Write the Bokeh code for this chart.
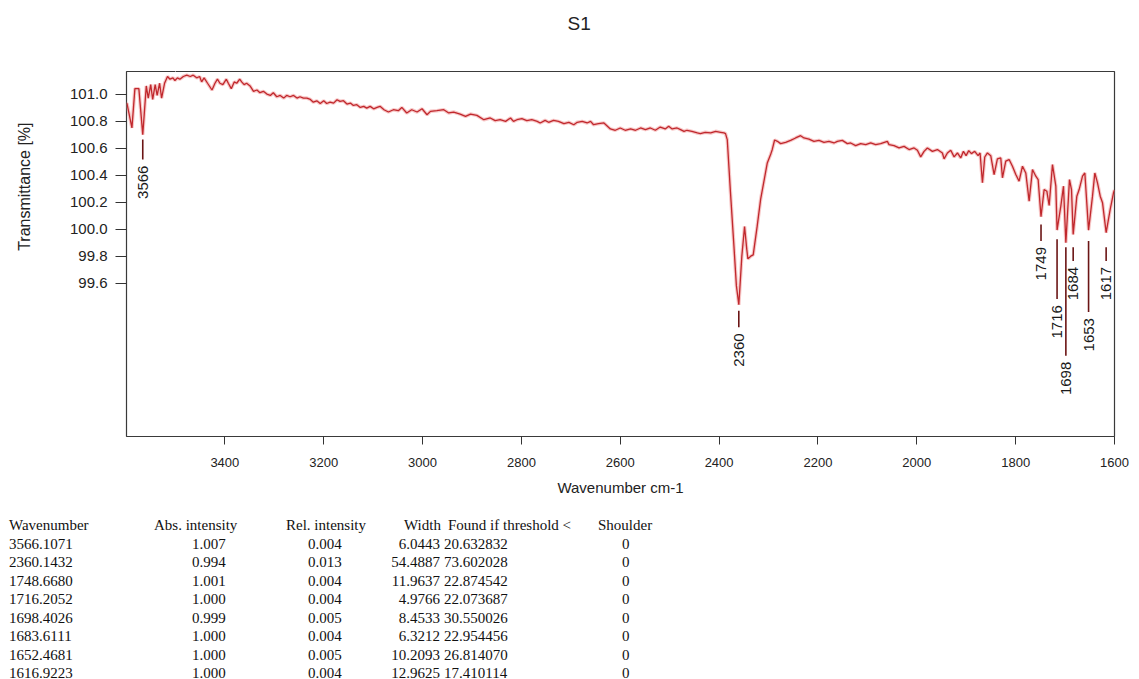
import math
from bokeh.plotting import figure
from bokeh.models import Range1d, FixedTicker, PrintfTickFormatter, Title, LinearAxis, Div
from bokeh.layouts import column
from bokeh.core.properties import value
from bokeh.embed import file_html
from bokeh.resources import INLINE

# ---------------- spectrum ----------------
wavenumber = [
    3599, 3598, 3588, 3582, 3574, 3566.1, 3559, 3555, 3550, 3546, 3541, 3537, 3532, 3528, 3522,
    3516, 3511, 3505, 3501, 3496, 3491, 3484, 3477, 3470, 3464, 3457, 3451, 3447, 3442, 3435,
    3426, 3420, 3415, 3410, 3404, 3397, 3393, 3387, 3381, 3376, 3370, 3366, 3361, 3356, 3349,
    3342, 3335, 3329, 3322, 3315, 3308, 3302, 3295, 3288, 3281, 3275, 3268, 3261, 3254, 3248,
    3241, 3234, 3227, 3221, 3214, 3207, 3200, 3194, 3187,
    3180, 3173, 3167, 3160, 3153, 3146, 3140, 3133, 3126, 3119, 3113, 3106, 3099, 3092, 3086,
    3078, 3069, 3059, 3049, 3042, 3032, 3022, 3011, 3001, 2991, 2984, 2971, 2957, 2947, 2937,
    2924, 2913, 2903, 2890, 2876, 2863, 2853, 2843, 2832, 2822, 2816, 2809, 2799, 2789, 2779, 2768,
    2762, 2752, 2745, 2735, 2725, 2714, 2704, 2694, 2687, 2677, 2667, 2660, 2654, 2644, 2633,
    2627, 2620, 2610, 2600, 2590, 2579, 2569, 2559, 2549, 2539, 2529, 2519, 2509, 2502, 2495,
    2485, 2478, 2471, 2465, 2455, 2444, 2438, 2428, 2417, 2407, 2397, 2390,
    2387, 2383.5, 2377, 2370, 2365, 2360.1, 2354, 2348.5, 2344, 2341.8, 2336, 2331, 2323, 2316,
    2302.5, 2296, 2292.4, 2287.7, 2282,
    2275.5, 2265.4, 2255.3, 2245.2, 2235.1, 2228.3, 2218.2, 2208.1, 2197.9, 2187.8, 2177.7,
    2167.5, 2160.8, 2150.7, 2140.5, 2133.8, 2123.7, 2113.6, 2103.4, 2093.3, 2083.2, 2073.1,
    2059.6, 2056.2, 2046.1, 2035.9, 2025.8, 2015.7, 2005.5, 1998.8, 1992.1, 1985.3, 1978.6,
    1968.4, 1958.3, 1948.2, 1944.8, 1938.1, 1931.3, 1924.5, 1917.8, 1911.1,
    1905.7, 1900.3, 1894.9, 1889.5, 1882.8, 1876, 1872, 1867.2, 1862.5, 1857.1, 1850.4, 1843.6,
    1836.9, 1830.1, 1826.7, 1820, 1813.2, 1806.5, 1799.7, 1793, 1786.2, 1779.5, 1772.7, 1766,
    1759.2, 1754.5, 1748.7, 1742.4, 1736.9, 1732.2, 1725.5, 1718.7, 1716.2, 1708.6, 1703.2,
    1698.4, 1691.1, 1687, 1683.6, 1676.2, 1671.5, 1664.7, 1660, 1652.5, 1644.5, 1639.8, 1634.4,
    1628.9, 1624.2, 1616.9, 1608.7, 1602, 1600,
]
transmittance = [
    100.93, 100.93, 100.75, 101.04, 101.04, 100.70, 101.06, 100.97, 101.07, 100.96, 101.07, 100.99, 101.08, 100.97, 101.08,
    101.13, 101.11, 101.12, 101.10, 101.12, 101.11, 101.13, 101.14, 101.13, 101.14, 101.12, 101.13, 101.09, 101.12, 101.08,
    101.03, 101.08, 101.11, 101.08, 101.07, 101.11, 101.08, 101.04, 101.09, 101.08, 101.11, 101.09, 101.07, 101.08, 101.06,
    101.02, 101.03, 101.01, 101.02, 101.00, 100.99, 101.01, 100.98, 100.99, 100.97, 100.99, 100.98, 100.99, 100.97, 100.98,
    100.97, 100.97, 100.96, 100.94, 100.95, 100.93, 100.95, 100.93, 100.94,
    100.933, 100.958, 100.946, 100.951, 100.926, 100.933, 100.916, 100.921, 100.901, 100.909, 100.896, 100.909, 100.891, 100.901, 100.909,
    100.884, 100.867, 100.884, 100.877, 100.901, 100.860, 100.884, 100.867, 100.891, 100.847, 100.872, 100.877, 100.884, 100.860, 100.867,
    100.852, 100.835, 100.852, 100.842, 100.810, 100.823, 100.803, 100.810, 100.798, 100.823, 100.798, 100.810, 100.818, 100.803, 100.810, 100.798,
    100.786, 100.805, 100.791, 100.805, 100.798, 100.781, 100.791, 100.773, 100.791, 100.798, 100.786, 100.798, 100.773, 100.781, 100.786,
    100.766, 100.742, 100.732, 100.749, 100.732, 100.742, 100.732, 100.749, 100.737, 100.749, 100.732, 100.756, 100.742, 100.761, 100.742,
    100.749, 100.737, 100.724, 100.732, 100.724, 100.712, 100.707, 100.717, 100.712, 100.724, 100.717, 100.712,
    100.707, 100.663, 100.272, 99.875, 99.58, 99.44, 99.80, 100.02, 99.85, 99.78, 99.80, 99.81, 100.02, 100.22,
    100.49, 100.55, 100.59, 100.66, 100.65,
    100.633, 100.643, 100.657, 100.675, 100.692, 100.675, 100.667, 100.650, 100.657, 100.643, 100.650,
    100.638, 100.650, 100.657, 100.633, 100.638, 100.618, 100.633, 100.626, 100.638, 100.626, 100.633,
    100.650, 100.626, 100.618, 100.601, 100.613, 100.589, 100.601, 100.584, 100.535, 100.576, 100.601,
    100.576, 100.589, 100.564, 100.520, 100.564, 100.584, 100.535, 100.564, 100.527,
    100.576, 100.544, 100.581, 100.559, 100.576, 100.544, 100.564, 100.343, 100.534, 100.564, 100.544, 100.404,
    100.520, 100.527, 100.380, 100.503, 100.515, 100.466, 100.404, 100.355, 100.466, 100.416, 100.207, 100.441,
    100.392, 100.367, 100.092, 100.293, 100.281, 100.175, 100.478, 100.318, 99.993, 100.170, 100.318,
    99.900, 100.367, 100.293, 99.961, 100.244, 100.293, 100.392, 100.416, 99.993, 100.244, 100.416, 100.343,
    100.244, 100.195, 99.974, 100.146, 100.269, 100.29,
]

# ---------------- peak picks ----------------
peak_wavenumber = [3566.1071, 2360.1432, 1748.6680, 1716.2052, 1698.4026, 1683.6111, 1652.4681, 1616.9223]
peak_labels = ["3566", "2360", "1749", "1716", "1698", "1684", "1653", "1617"]
peak_marker_top = [100.663, 99.396, 100.035, 99.925, 99.866, 99.866, 99.912, 99.866]
peak_marker_bottom = [100.515, 99.273, 99.912, 99.482, 99.063, 99.765, 99.386, 99.765]

# ---------------- axes ----------------
x_ticks = [3400, 3200, 3000, 2800, 2600, 2400, 2200, 2000, 1800, 1600]
y_ticks = [99.6, 99.8, 100.0, 100.2, 100.4, 100.6, 100.8, 101.0]

# ---------------- peak table ----------------
table_header = ["Wavenumber", "Abs. intensity", "Rel. intensity", "Width", "Found if threshold <", "Shoulder"]
table_wavenumber = ["3566.1071", "2360.1432", "1748.6680", "1716.2052", "1698.4026", "1683.6111", "1652.4681", "1616.9223"]
table_abs = ["1.007", "0.994", "1.001", "1.000", "0.999", "1.000", "1.000", "1.000"]
table_rel = ["0.004", "0.013", "0.004", "0.004", "0.005", "0.004", "0.005", "0.004"]
table_width = ["6.0443", "54.4887", "11.9637", "4.9766", "8.4533", "6.3212", "10.2093", "12.9625"]
table_found = ["20.632832", "73.602028", "22.874542", "22.073687", "30.550026", "22.954456", "26.814070", "17.410114"]
table_shoulder = ["0", "0", "0", "0", "0", "0", "0", "0"]

SANS = "Liberation Sans"
SERIF = "Liberation Serif"

FRAME_W, FRAME_H = 988, 365
B_LEFT, B_RIGHT, B_TOP, B_BOTTOM = 126, 16, 71, 63

p = figure(frame_width=FRAME_W, frame_height=FRAME_H,
           x_range=Range1d(3599, 1600), y_range=Range1d(98.465, 101.167),
           output_backend="svg", toolbar_location=None,
           min_border_left=B_LEFT, min_border_right=B_RIGHT,
           min_border_top=B_TOP, min_border_bottom=B_BOTTOM)
p.background_fill_color = "white"
p.border_fill_color = "white"
p.outline_line_color = "#3a3a3a"
p.outline_line_width = 1.2
p.xgrid.visible = False
p.ygrid.visible = False

# spectrum (soft halo + line)
p.line(wavenumber, transmittance, line_color="#f2a2a2", line_width=3.5, line_alpha=0.6)
p.line(wavenumber, transmittance, line_color="#c0282d", line_width=1.3)

# peak markers and labels
p.segment(x0=peak_wavenumber, y0=peak_marker_top, x1=peak_wavenumber, y1=peak_marker_bottom,
          line_color="#6b1515", line_width=1.6)
p.text(x=peak_wavenumber, y=peak_marker_bottom, text=peak_labels, angle=math.pi / 2,
       text_align="right", text_baseline="middle", y_offset=6,
       text_font=value(SANS), text_font_size="15px", text_color="#1a1a1a")

xa = p.xaxis[0]
xa.ticker = FixedTicker(ticks=x_ticks)
xa.axis_label = "Wavenumber cm-1"
xa.major_tick_in = 0
xa.major_tick_out = 8
xa.minor_tick_line_color = None
xa.major_label_standoff = 13
xa.major_label_text_font = SANS
xa.major_label_text_font_size = "13px"
xa.major_label_text_color = "#222222"
xa.axis_label_text_font = SANS
xa.axis_label_text_font_size = "15px"
xa.axis_label_text_font_style = "normal"
xa.axis_label_text_color = "#222222"
xa.axis_label_standoff = 9
xa.axis_line_color = None
xa.major_tick_line_color = "#333333"

ya = p.yaxis[0]
ya.ticker = FixedTicker(ticks=y_ticks)
ya.formatter = PrintfTickFormatter(format="%.1f")
ya.major_tick_in = 0
ya.major_tick_out = 11
ya.minor_tick_line_color = None
ya.major_label_standoff = 8
ya.major_label_text_font = SANS
ya.major_label_text_font_size = "15px"
ya.major_label_text_color = "#222222"
ya.axis_line_color = None
ya.major_tick_line_color = "#333333"


def spacer_axis(size, at):
    """An invisible axis (white tick on white, no labels) used only as padding in a side panel."""
    return LinearAxis(ticker=FixedTicker(ticks=[at]), axis_line_color=None,
                      major_tick_line_color="white", minor_tick_line_color=None,
                      major_tick_in=0, major_tick_out=size, minor_tick_out=0,
                      major_label_text_color=None, major_label_text_font_size="1px",
                      major_label_standoff=0)


# padding so the titles sit where the reference has them
p.add_layout(spacer_axis(33, 3500), "above")
p.add_layout(spacer_axis(29, 98.9), "left")

p.title.text = "S1"
p.title.align = "left"
p.title.offset = 441
p.title.text_font = SANS
p.title.text_font_size = "19px"
p.title.text_font_style = "normal"
p.title.text_color = "#222222"

p.add_layout(Title(text="Transmittance [%]", align="right", offset=51,
                   text_font=SANS, text_font_size="16px", text_font_style="normal",
                   text_color="#222222"), "left")

# ---------------- peak table below the chart (HTML text) ----------------
header_top = 14
row_step = 18.5
row_tops = [header_top + row_step * (i + 1) for i in range(len(table_wavenumber))]
header_left = [4, 149, 281, 399, 443, 593]


def span(text, left, top, align="left"):
    if align == "right":
        return ('<span style="position:absolute;left:%dpx;top:%.1fpx;width:90px;'
                'text-align:right;white-space:nowrap;line-height:15px;">%s</span>' % (left - 90, top, text))
    return ('<span style="position:absolute;left:%dpx;top:%.1fpx;white-space:nowrap;'
            'line-height:15px;">%s</span>' % (left, top, text.replace("<", "&lt;")))


parts = [span(h, x, header_top) for h, x in zip(table_header, header_left)]
columns = [(table_wavenumber, 4, "left"), (table_abs, 187, "left"), (table_rel, 303, "left"),
           (table_width, 435, "right"), (table_found, 439, "left"), (table_shoulder, 617, "left")]
for vals, cx, al in columns:
    for v, ty in zip(vals, row_tops):
        parts.append(span(v, cx, ty, al))

table_html = ('<div style="position:relative;width:1130px;height:176px;'
              'font-family:\'Liberation Serif\';font-size:15px;color:#111111;">'
              + "".join(parts) + "</div>")
table_div = Div(text=table_html, width=1130, height=176)

layout = column(p, table_div, spacing=0)
open("out.html", "w").write(file_html(layout, INLINE))
